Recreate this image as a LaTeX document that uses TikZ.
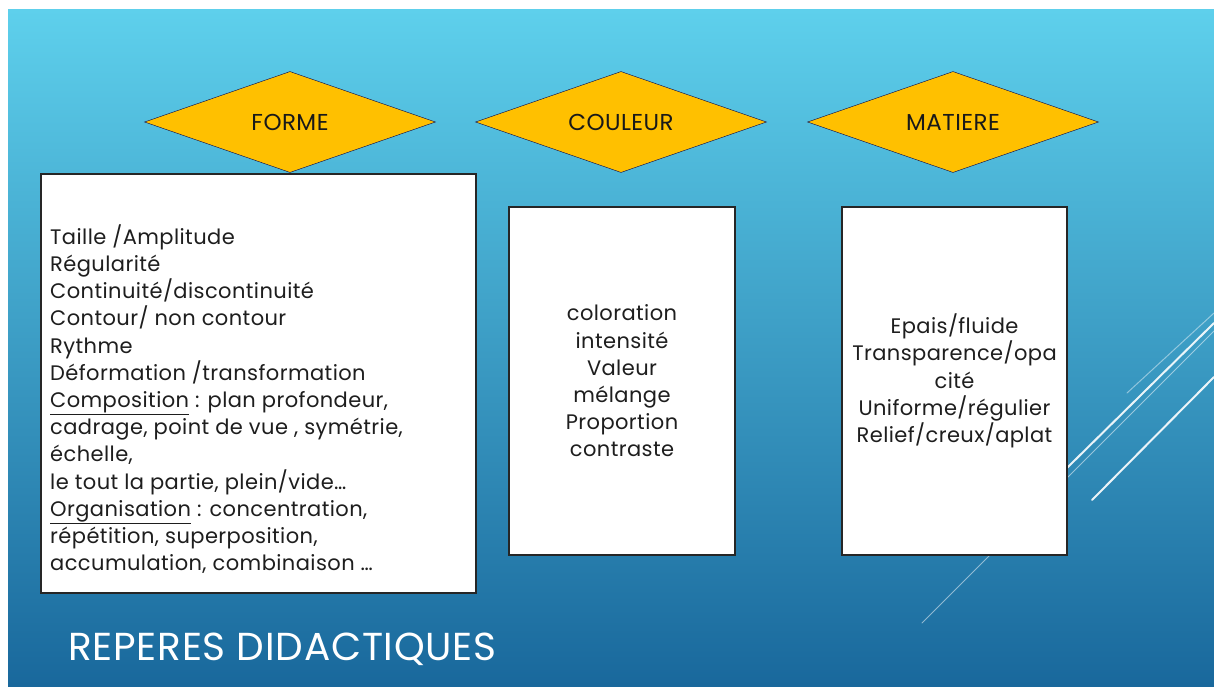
\documentclass[tikz,border=0pt]{standalone}
\usepackage{fontspec}
\setmainfont{Poppins}[LetterSpace=2]
\usetikzlibrary{shapes.geometric}

\definecolor{slidetop}{RGB}{94,208,236}
\definecolor{slidemid}{RGB}{54,156,204}
\definecolor{slidebot}{RGB}{25,104,156}
\definecolor{gold}{RGB}{255,192,0}
\definecolor{ink}{RGB}{30,30,30}

\tikzset{
	theme/.style={diamond, draw=black!70!blue, fill=gold, inner sep=0pt,
		minimum width=291pt, minimum height=101pt, text=black!90,
		font=\fontsize{23}{26}\selectfont},
	card/.style={draw=black!85, line width=1.5pt, fill=white, inner sep=0pt,
		text=ink, align=center, font=\fontsize{21}{27.2}\selectfont},
	cardtext/.style={text=ink, align=left, inner sep=0pt,
		font=\fontsize{21}{27.2}\selectfont},
	streak/.style={white, line cap=round},
}

\begin{document}
\begin{tikzpicture}[x=1pt,y=-1pt]

	% draw slide background
	\fill[white] (0,0) rectangle (1214,686);
	\shade[top color=slidetop, middle color=slidemid, bottom color=slidebot]
		(8,9) rectangle (1214,686);
	\useasboundingbox (0,0) rectangle (1214,686);

	% draw streaks
	\draw[streak, opacity=0.5, line width=1pt] (922,623) -- (1214,331);
	\draw[streak, opacity=0.9, line width=2pt] (1000,534) -- (1214,323);
	\draw[streak, opacity=0.9, line width=2pt] (1092,500) -- (1214,377);
	\draw[streak, opacity=0.45, line width=1pt] (1127,393) -- (1214,313);

	% draw boxes
	\node[card, minimum width=435pt, minimum height=419pt] (forme_box) at (258.5,383.5) {};
	\node[cardtext, anchor=west] (forme_text) at (50,399)
		{Taille /Amplitude\\
		Régularité\\
		Continuité/discontinuité\\
		Contour/ non contour\\
		Rythme\\
		Déformation /transformation\\
		\underline{Composition} : plan profondeur,\\
		cadrage, point de vue , symétrie,\\
		échelle,\\
		le tout la partie, plein/vide…\\
		\underline{Organisation} : concentration,\\
		répétition, superposition,\\
		accumulation, combinaison …};

	\node[card, minimum width=226pt, minimum height=348pt] (couleur_box) at (622,381)
		{coloration\\ intensité\\ Valeur\\ mélange\\ Proportion\\ contraste};
	\node[card, minimum width=225pt, minimum height=348pt] (matiere_box) at (954.5,381)
		{Epais/fluide\\ Transparence/opa\\ cité\\ Uniforme/régulier\\ Relief/creux/aplat};

	% draw themes
	\foreach \name/\txt/\x in {forme/FORME/290, couleur/COULEUR/621, matiere/MATIERE/953}
	{
		\node[theme] (\name) at (\x,122) {\makebox[0pt]{\txt}};
	}

	% draw title
	\node[anchor=base west, text=white, inner sep=0pt, font=\fontsize{39}{43}\selectfont]
		(title) at (68,660) {REPERES DIDACTIQUES};

\end{tikzpicture}
\end{document}
